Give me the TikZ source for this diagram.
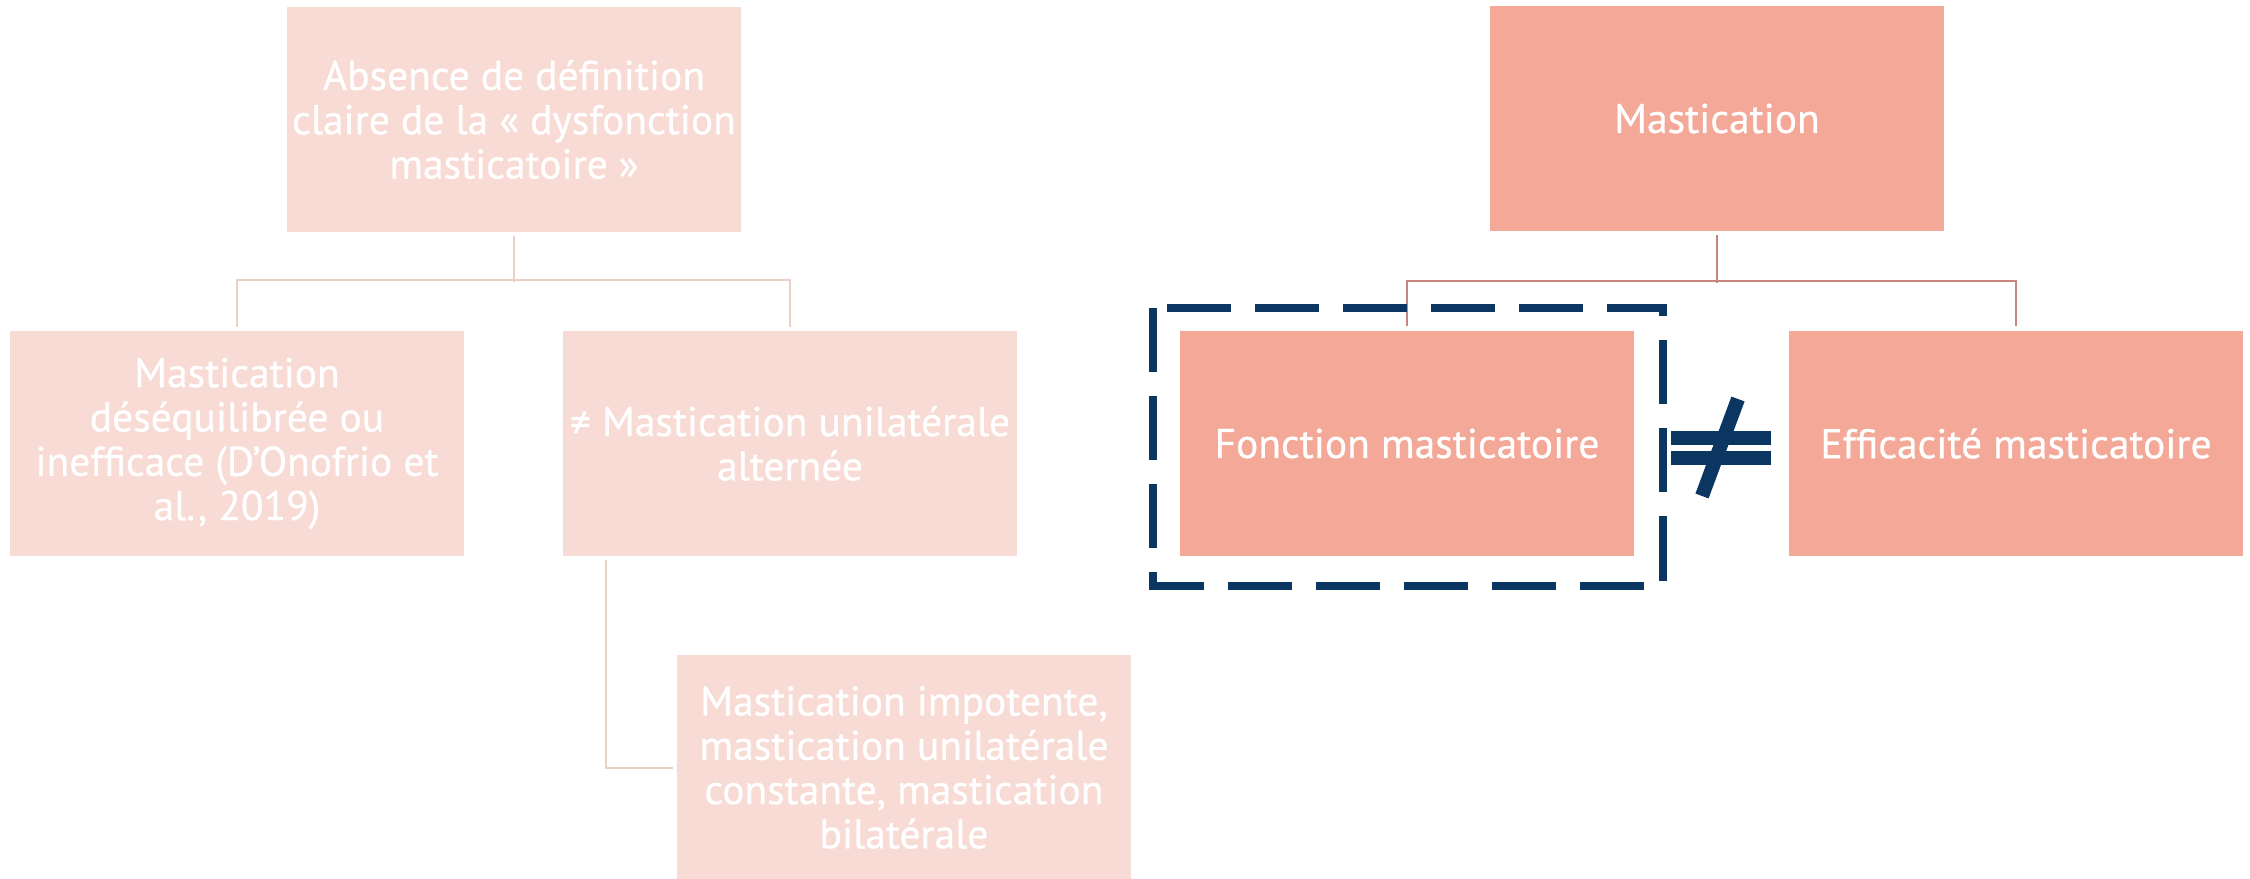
\documentclass[tikz,border=0pt]{standalone}
\usepackage{fontspec}
\setmainfont[FakeBold=0.6]{PT Sans}
\usetikzlibrary{calc}
\definecolor{lightbox}{HTML}{F8DBD5}
\definecolor{salmon}{HTML}{F3A898}
\definecolor{lconncol}{HTML}{EDCFCA}
\definecolor{rconncol}{HTML}{C8877C}
\definecolor{navy}{HTML}{0B3662}
\begin{document}
\begin{tikzpicture}[x=0.01cm,y=-0.01cm,
  boxbase/.style={rectangle, inner sep=0pt, minimum width=4.54cm, minimum height=2.25cm,
     align=center, text=white, font=\fontsize{11.8}{12.6}\selectfont},
  lightnode/.style={boxbase, fill=lightbox},
  salmonnode/.style={boxbase, fill=salmon},
  lconn/.style={draw=lconncol, line width=0.2mm},
  rconn/.style={draw=rconncol, line width=0.25mm},
  dashbox/.style={draw=navy, line width=0.8mm, dash pattern=on 6.4mm off 2.4mm},
  neqbar/.style={draw=navy, line width=1.4mm}]
\useasboundingbox (0,0) rectangle (2250,878);
% left tree
\node[lightnode] (b1) at (514,119.5) {Absence de définition\\claire de la « dysfonction\\masticatoire »};
\node[lightnode] (a) at (237,443.5) {Mastication\\déséquilibrée ou\\inefficace (D’Onofrio et\\al., 2019)};
\node[lightnode] (bb) at (790,443.5) {≠ Mastication unilatérale\\alternée};
\node[lightnode] (c) at (904,767.5) {Mastication impotente,\\mastication unilatérale\\constante, mastication\\bilatérale};
\draw[lconn] ($(b1.south)+(0,3)$) -- ($(b1.south)+(0,49)$);
\draw[lconn] ($(a.north)+(0,-3)$) |- ($(bb.north)+(0,-50)$) -- ($(bb.north)+(0,-3)$);
\draw[lconn] ($(bb.south west)+(44,3)$) |- ($(c.west)+(-3,0)$);
% right tree
\node[salmonnode] (m) at (1717,118.5) {Mastication};
\node[salmonnode] (f) at (1407,443.5) {Fonction masticatoire};
\node[salmonnode] (e) at (2016,443.5) {Efficacité masticatoire};
\draw[rconn] ($(m.south)+(0,3)$) -- ($(m.south)+(0,51)$);
\draw[rconn] ($(f.north)+(0,-4)$) |- ($(e.north)+(0,-49)$) -- ($(e.north)+(0,-4)$);
\draw[dashbox] ($(f.north west)+(-26,-22)$) rectangle ($(f.south east)+(28,29)$);
% not-equal sign
\coordinate (bar1a) at (1671,437.5);
\coordinate (bar1b) at (1771,437.5);
\coordinate (bar2a) at (1671,458);
\coordinate (bar2b) at (1771,458);
\coordinate (slA) at (1702,496);
\coordinate (slB) at (1738,399);
\draw[neqbar] (bar1a) -- (bar1b);
\draw[neqbar] (bar2a) -- (bar2b);
\draw[neqbar] (slA) -- (slB);
\end{tikzpicture}
\end{document}
